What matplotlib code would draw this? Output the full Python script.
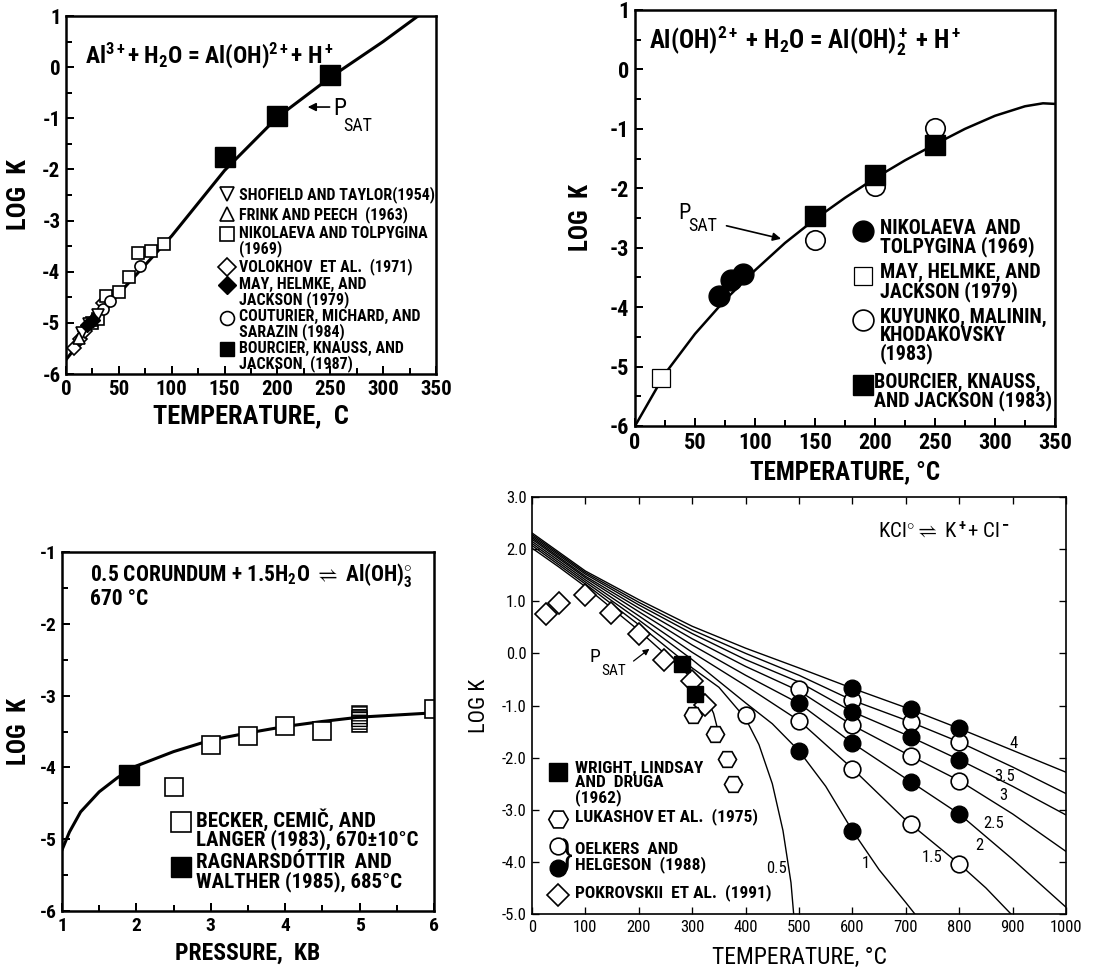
import numpy as np
import matplotlib
matplotlib.use("Agg")
import matplotlib.pyplot as plt
from matplotlib import font_manager
from matplotlib.ticker import MultipleLocator, FormatStrFormatter

# ── Fonts ────────────────────────────────────────────────────────────────────
names = {f.name for f in font_manager.fontManager.ttflist}
NARROW = "DejaVu Sans"
for cand in ["Roboto Condensed", "Liberation Sans Narrow", "Arial Narrow", "Roboto"]:
    if cand in names:
        NARROW = cand
        break
FONT = [NARROW, "DejaVu Sans"]
plt.rcParams["font.family"] = FONT
plt.rcParams["axes.unicode_minus"] = False
plt.rcParams["mathtext.fontset"] = "custom"
plt.rcParams["mathtext.rm"] = NARROW + ":bold"
plt.rcParams["mathtext.it"] = NARROW + ":bold"
plt.rcParams["mathtext.bf"] = NARROW + ":bold"

# ── Panel 1: Al3+ + H2O = Al(OH)2+ + H+ ─────────────────────────────────────
p1_curve_t = [0, 50, 100, 150, 200, 250, 300, 333]
p1_curve_k = [-5.72, -4.43, -3.30, -2.02, -0.98, -0.20, 0.50, 1.00]
shofield_t = [15, 22, 30]
shofield_k = [-5.20, -5.02, -4.85]
frink_t = [12, 25]
frink_k = [-5.30, -4.95]
nikol1_t = [25, 30, 38, 50, 60, 68, 80, 93]
nikol1_k = [-5.00, -4.93, -4.47, -4.40, -4.10, -3.63, -3.60, -3.45]
volokhov_t = [8, 13, 18, 35, 40]
volokhov_k = [-5.50, -5.32, -5.15, -4.62, -4.52]
may1_t = [20, 26]
may1_k = [-5.05, -4.95]
coutur_t = [35, 42, 70]
coutur_k = [-4.72, -4.58, -3.88]
bourc1_t = [150, 200, 250]
bourc1_k = [-1.75, -0.95, -0.15]

# ── Panel 2: Al(OH)2+ + H2O = Al(OH)2+ + H+ ────────────────────────────────
p2_curve_t = [0, 25, 50, 75, 100, 125, 150, 175, 200, 225, 250, 275, 300, 325, 340, 350]
p2_curve_k = [-6.0, -5.12, -4.45, -3.88, -3.38, -2.92, -2.52, -2.16, -1.83, -1.53,
              -1.26, -1.00, -0.78, -0.62, -0.57, -0.58]
nikol2_t = [70, 80, 90]
nikol2_k = [-3.82, -3.55, -3.45]
may2_t = [22]
may2_k = [-5.20]
kuyunko_t = [150, 200, 250]
kuyunko_k = [-2.87, -1.96, -0.99]
bourc2_t = [150, 200, 250]
bourc2_k = [-2.46, -1.78, -1.28]

# ── Panel 3: corundum solubility at 670 C ──────────────────────────────────
p3_curve_p = [1.0, 1.1, 1.25, 1.5, 1.75, 2.0, 2.5, 3.0, 3.5, 4.0, 4.5, 5.0, 6.0]
p3_curve_k = [-5.15, -4.90, -4.62, -4.34, -4.14, -3.98, -3.78, -3.62, -3.52, -3.43,
              -3.36, -3.30, -3.24]
becker_p = [2.5, 3.0, 3.5, 4.0, 4.5, 6.0]
becker_k = [-4.27, -3.69, -3.56, -3.43, -3.49, -3.19]
becker5_p = [5.0, 5.0, 5.0]
becker5_k = [-3.24, -3.32, -3.40]
ragnar_p = [1.9]
ragnar_k = [-4.10]

# ── Panel 4: KCl0 = K+ + Cl- isochores ─────────────────────────────────────
psat_t = [0, 50, 100, 150, 200, 250, 300, 325, 340, 350]
psat_k = [2.02, 1.66, 1.28, 0.86, 0.44, -0.02, -0.48, -0.82, -1.15, -1.55]
iso_labels = ["0.5", "1", "1.5", "2", "2.5", "3", "3.5", "4"]
iso_t = {
    "0.5": [0, 100, 200, 300, 350, 400, 425, 450, 470, 485, 490],
    "1":   [0, 100, 200, 300, 400, 450, 500, 550, 600, 650, 700, 717],
    "1.5": [0, 100, 200, 300, 400, 500, 600, 700, 800, 850, 897],
    "2":   [0, 100, 200, 300, 400, 500, 600, 700, 800, 900, 1000],
    "2.5": [0, 100, 200, 300, 400, 500, 600, 700, 800, 900, 1000],
    "3":   [0, 100, 200, 300, 400, 500, 600, 700, 800, 900, 1000],
    "3.5": [0, 100, 200, 300, 400, 500, 600, 700, 800, 900, 1000],
    "4":   [0, 100, 200, 300, 400, 500, 600, 700, 800, 900, 1000],
}
iso_k = {
    "0.5": [2.07, 1.33, 0.55, -0.28, -0.65, -1.25, -1.75, -2.50, -3.40, -4.40, -5.00],
    "1":   [2.11, 1.37, 0.64, -0.12, -0.95, -1.35, -1.87, -2.55, -3.40, -4.15, -4.78, -5.00],
    "1.5": [2.15, 1.41, 0.72, 0.02, -0.62, -1.29, -2.21, -3.20, -4.04, -4.50, -5.00],
    "2":   [2.19, 1.45, 0.80, 0.16, -0.42, -0.96, -1.72, -2.40, -3.08, -3.95, -4.87],
    "2.5": [2.22, 1.48, 0.87, 0.28, -0.25, -0.72, -1.38, -1.92, -2.44, -3.08, -3.80],
    "3":   [2.25, 1.52, 0.93, 0.38, -0.12, -0.55, -1.12, -1.56, -2.04, -2.55, -3.10],
    "3.5": [2.28, 1.55, 0.98, 0.45, 0.00, -0.42, -0.90, -1.28, -1.70, -2.18, -2.69],
    "4":   [2.31, 1.58, 1.03, 0.52, 0.10, -0.28, -0.67, -1.04, -1.44, -1.86, -2.28],
}
iso_label_pos = {"0.5": (457, -4.13), "1": (626, -4.04), "1.5": (750, -3.91),
                 "2": (838, -3.69), "2.5": (864, -3.27), "3": (882, -2.72),
                 "3.5": (886, -2.37), "4": (901, -1.73)}
wright_t = [280, 305]
wright_k = [-0.20, -0.78]
lukashov_t = [302, 343, 365, 376]
lukashov_k = [-1.19, -1.54, -2.02, -2.51]
oelk_open_t = [400, 500, 500, 600, 600, 600, 710, 710, 710, 800, 800, 800]
oelk_open_k = [-1.19, -0.69, -1.29, -0.90, -1.38, -2.21, -1.31, -1.96, -3.28, -1.70, -2.44, -4.04]
oelk_fill_t = [500, 500, 600, 600, 600, 600, 710, 710, 710, 800, 800, 800]
oelk_fill_k = [-0.96, -1.87, -0.67, -1.12, -1.72, -3.40, -1.06, -1.60, -2.47, -1.44, -2.04, -3.08]
pokrov_t = [26, 51, 99, 148, 200, 247, 299, 324]
pokrov_k = [0.76, 0.97, 1.12, 0.78, 0.37, -0.12, -0.53, -0.99]

# ── Figure ───────────────────────────────────────────────────────────────────
W, H = 1094, 969
fig = plt.figure(figsize=(W / 100, H / 100), dpi=100)


def box(l, r, t, b):
    return [l / W, 1 - b / H, (r - l) / W, (b - t) / H]


def style(ax, lw=1.8, size=12, bold=True):
    for s in ax.spines.values():
        s.set_linewidth(lw)
    ax.tick_params(which="both", direction="in", width=lw * 0.8, labelsize=size, pad=4)
    ax.tick_params(which="major", length=6)
    ax.tick_params(which="minor", length=4)
    for lab in ax.get_xticklabels() + ax.get_yticklabels():
        lab.set_fontweight("bold" if bold else "normal")


def entry(ax, x, y, text, tx, size, dy=6, **mk):
    ax.plot([x], [y], ls="none", color="black", clip_on=False, **mk)
    ax.annotate(text, xy=(tx, y), xytext=(0, dy), textcoords="offset points",
                va="top", ha="left", fontsize=size, fontweight="bold", linespacing=0.92)


OPEN = dict(mfc="white", mec="black", mew=1.2)
FILL = dict(mfc="black", mec="black", mew=1.0)

# ── Panel 1 ──────────────────────────────────────────────────────────────────
ax1 = fig.add_axes(box(66, 436, 16, 374))
ax1.plot(p1_curve_t, p1_curve_k, color="black", lw=2.2)
ax1.plot(volokhov_t, volokhov_k, "D", ms=7, ls="none", **OPEN)
ax1.plot(nikol1_t, nikol1_k, "s", ms=9, ls="none", **OPEN)
ax1.plot(coutur_t, coutur_k, "o", ms=8, ls="none", **OPEN)
ax1.plot(shofield_t, shofield_k, "v", ms=8, ls="none", **OPEN)
ax1.plot(frink_t, frink_k, "^", ms=8, ls="none", **OPEN)
ax1.plot(may1_t, may1_k, "D", ms=7, ls="none", **FILL)
ax1.plot(bourc1_t, bourc1_k, "s", ms=15, ls="none", **FILL)
ax1.set_xlim(0, 350)
ax1.set_ylim(-6, 1)
ax1.xaxis.set_major_locator(MultipleLocator(50))
ax1.xaxis.set_minor_locator(MultipleLocator(25))
ax1.yaxis.set_major_locator(MultipleLocator(1))
ax1.yaxis.set_minor_locator(MultipleLocator(0.5))
style(ax1, size=15)
ax1.set_xlabel("TEMPERATURE,  C", fontsize=19, fontweight="bold", labelpad=4)
ax1.set_ylabel("LOG  K", fontsize=19, fontweight="bold", labelpad=8)
ax1.text(18, 0.24, r"Al$^{3+}$+ H$_2$O = Al(OH)$^{2+}$+ H$^+$", fontsize=17,
         fontweight="bold", va="center")
ax1.annotate("", xy=(226, -0.78), xytext=(252, -0.78),
             arrowprops=dict(arrowstyle="-|>", color="black", lw=1.2, mutation_scale=12))
ax1.text(253, -0.80, "P", fontsize=17, va="center")
ax1.text(262, -1.15, "SAT", fontsize=13, va="center")
leg1_x, leg1_tx = 152, 164
entry(ax1, leg1_x, -2.48, "SHOFIELD AND TAYLOR(1954)", leg1_tx, 11.5, marker="v", ms=10, **OPEN)
entry(ax1, leg1_x, -2.87, "FRINK AND PEECH  (1963)", leg1_tx, 11.5, marker="^", ms=10, **OPEN)
entry(ax1, leg1_x, -3.27, "NIKOLAEVA AND TOLPYGINA\n(1969)", leg1_tx, 11.5, marker="s", ms=10, **OPEN)
entry(ax1, leg1_x, -3.90, "VOLOKHOV  ET AL.  (1971)", leg1_tx, 11.5, marker="D", ms=9, **OPEN)
entry(ax1, leg1_x, -4.26, "MAY, HELMKE, AND\nJACKSON (1979)", leg1_tx, 11.5, marker="D", ms=9, **FILL)
entry(ax1, leg1_x, -4.90, "COUTURIER, MICHARD, AND\nSARAZIN (1984)", leg1_tx, 11.5, marker="o", ms=10, **OPEN)
entry(ax1, leg1_x, -5.52, "BOURCIER, KNAUSS, AND\nJACKSON  (1987)", leg1_tx, 11.5, marker="s", ms=10, **FILL)

# ── Panel 2 ──────────────────────────────────────────────────────────────────
ax2 = fig.add_axes(box(635, 1055, 10, 426))
ax2.plot(p2_curve_t, p2_curve_k, color="black", lw=1.8)
ax2.plot(may2_t, may2_k, "s", ms=13, ls="none", mfc="white", mec="black", mew=0.9)
ax2.plot(kuyunko_t, kuyunko_k, "o", ms=14, ls="none", **OPEN)
ax2.plot(bourc2_t, bourc2_k, "s", ms=15, ls="none", **FILL)
ax2.plot(nikol2_t, nikol2_k, "o", ms=15, ls="none", **FILL)
ax2.set_xlim(0, 350)
ax2.set_ylim(-6, 1)
ax2.xaxis.set_major_locator(MultipleLocator(50))
ax2.xaxis.set_minor_locator(MultipleLocator(25))
ax2.yaxis.set_major_locator(MultipleLocator(1))
ax2.yaxis.set_minor_locator(MultipleLocator(0.5))
style(ax2, size=16)
ax2.set_xlabel("TEMPERATURE, °C", fontsize=18, fontweight="bold", labelpad=5)
ax2.set_ylabel("LOG  K", fontsize=18, fontweight="bold", labelpad=12)
ax2.text(12, 0.48, r"Al(OH)$^{2+}$ + H$_2$O = Al(OH)$_2^+$ + H$^+$", fontsize=18,
         fontweight="bold", va="center")
ax2.annotate("", xy=(124, -2.86), xytext=(74, -2.62),
             arrowprops=dict(arrowstyle="-|>", color="black", lw=1.2, mutation_scale=12))
ax2.text(36, -2.42, "P", fontsize=16, va="center")
ax2.text(44, -2.64, "SAT", fontsize=13, va="center", ha="left")
leg2_x, leg2_tx = 190, 204
entry(ax2, leg2_x, -2.72, "NIKOLAEVA  AND\nTOLPYGINA (1969)", leg2_tx, 14.5, dy=9, marker="o", ms=15, **FILL)
entry(ax2, leg2_x, -3.47, "MAY, HELMKE, AND\nJACKSON (1979)", leg2_tx, 14.5, dy=9, marker="s", ms=13,
      mfc="white", mec="black", mew=0.9)
entry(ax2, leg2_x, -4.22, "KUYUNKO, MALININ,\nKHODAKOVSKY\n(1983)", leg2_tx, 14.5, dy=9, marker="o", ms=15, **OPEN)
entry(ax2, leg2_x, -5.31, "BOURCIER, KNAUSS,\nAND JACKSON (1983)", leg2_tx - 5, 14.5, dy=9, marker="s", ms=15, **FILL)

# ── Panel 3 ──────────────────────────────────────────────────────────────────
ax3 = fig.add_axes(box(62, 434, 552, 911))
ax3.plot(p3_curve_p, p3_curve_k, color="black", lw=2.2)
ax3.plot(becker_p, becker_k, "s", ms=13, ls="none", **OPEN)
for p, k in zip(becker5_p, becker5_k):
    ax3.bar(p, 0.2, width=0.2, bottom=k - 0.1, color="white", hatch="------",
            edgecolor="black", linewidth=1.1)
ax3.plot(ragnar_p, ragnar_k, "s", ms=15, ls="none", **FILL)
ax3.set_xlim(1, 6)
ax3.set_ylim(-6, -1)
ax3.xaxis.set_major_locator(MultipleLocator(1))
ax3.xaxis.set_minor_locator(MultipleLocator(0.5))
ax3.yaxis.set_major_locator(MultipleLocator(1))
ax3.yaxis.set_minor_locator(MultipleLocator(0.5))
style(ax3, size=14)
ax3.set_xlabel("PRESSURE,  KB", fontsize=17, fontweight="bold", labelpad=5)
ax3.set_ylabel("LOG  K", fontsize=18, fontweight="bold", labelpad=6)
ax3.text(1.38, -1.32, r"0.5 CORUNDUM + 1.5H$_2$O $\rightleftharpoons$ Al(OH)$_3^{\circ}$",
         fontsize=15.5, fontweight="bold", va="center")
ax3.text(1.38, -1.66, "670 °C", fontsize=15.5, fontweight="bold", va="center")
entry(ax3, 2.6, -4.76, "BECKER, CEMIČ, AND\nLANGER (1983), 670±10°C", 2.8, 15, dy=10,
      marker="s", ms=14, **OPEN)
entry(ax3, 2.6, -5.39, "RAGNARSDÓTTIR  AND\nWALTHER (1985), 685°C", 2.8, 15, dy=10,
      marker="s", ms=14, **FILL)

# ── Panel 4 ──────────────────────────────────────────────────────────────────
ax4 = fig.add_axes(box(532, 1066, 497, 914))
ax4.plot(psat_t, psat_k, color="black", lw=1.0)
for lab in iso_labels:
    ax4.plot(iso_t[lab], iso_k[lab], color="black", lw=1.0)
    ax4.text(*iso_label_pos[lab], lab, fontsize=12, ha="center", va="center")
ax4.plot(pokrov_t, pokrov_k, "D", ms=11, ls="none", **OPEN)
ax4.plot(lukashov_t, lukashov_k, "H", ms=13, ls="none", **OPEN)
ax4.plot(oelk_open_t, oelk_open_k, "o", ms=12, ls="none", **OPEN)
ax4.plot(oelk_fill_t, oelk_fill_k, "o", ms=12, ls="none", **FILL)
ax4.plot(wright_t, wright_k, "s", ms=12, ls="none", **FILL)
ax4.set_xlim(0, 1000)
ax4.set_ylim(-5, 3)
ax4.xaxis.set_major_locator(MultipleLocator(100))
ax4.yaxis.set_major_locator(MultipleLocator(1))
ax4.yaxis.set_major_formatter(FormatStrFormatter("%.1f"))
style(ax4, lw=1.2, size=12, bold=False)
ax4.tick_params(top=True, right=True, length=5)
ax4.set_xlabel("TEMPERATURE, °C", fontsize=17, labelpad=8)
ax4.set_ylabel("LOG K", fontsize=16, labelpad=8)
ax4.text(648, 2.34, r"KCl$^{\circ}$$\rightleftharpoons$ K$^+$+ Cl$^-$", fontsize=15,
         va="center", ha="left")
ax4.annotate("", xy=(224, 0.12), xytext=(186, -0.18),
             arrowprops=dict(arrowstyle="-|>", color="black", lw=0.9, mutation_scale=9))
ax4.text(108, -0.06, "P", fontsize=14, va="center")
ax4.text(130, -0.34, "SAT", fontsize=11, va="center")
leg4_x, leg4_tx = 48, 80
entry(ax4, leg4_x, -2.28, "WRIGHT, LINDSAY\nAND  DRUGA\n(1962)", leg4_tx, 12.5, dy=8,
      marker="s", ms=13, **FILL)
entry(ax4, leg4_x, -3.18, "LUKASHOV ET AL.  (1975)", leg4_tx, 12.5, dy=8, marker="H", ms=14, **OPEN)
ax4.plot([leg4_x], [-3.70], "o", ms=12, **OPEN)
ax4.plot([leg4_x], [-4.12], "o", ms=12, **FILL)
ax4.text(leg4_x + 17, -3.91, "}", fontsize=26, va="center", ha="center")
ax4.text(leg4_tx, -3.92, "OELKERS  AND\nHELGESON  (1988)", fontsize=12.5, va="center",
         fontweight="bold", linespacing=0.92)
entry(ax4, leg4_x, -4.64, "POKROVSKII  ET AL.  (1991)", leg4_tx, 12.5, dy=8, marker="D", ms=11, **OPEN)

fig.savefig("out.png", dpi=100)
